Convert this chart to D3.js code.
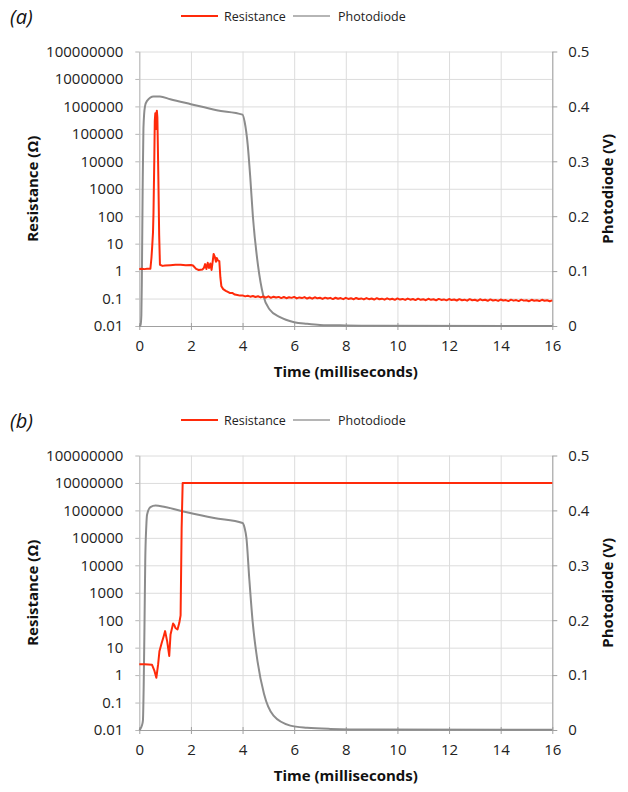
<!DOCTYPE html>
<html>
<head>
<meta charset="utf-8">
<script src="https://cdn.jsdelivr.net/npm/d3@7"></script>
<style>
  body { margin: 0; background: #fff; }
  svg { font-family: "Open Sans", sans-serif; }
</style>
</head>
<body>
<div id="chart"></div>
<script>
// axis ticks
var timeTicks = [0, 2, 4, 6, 8, 10, 12, 14, 16];
var resTicks = [0.01, 0.1, 1, 10, 100, 1000, 10000, 100000, 1000000, 10000000, 100000000];
var resTickLabels = ["0.01", "0.1", "1", "10", "100", "1000", "10000", "100000", "1000000", "10000000", "100000000"];
var photoTicks = [0, 0.1, 0.2, 0.3, 0.4, 0.5];
var photoTickLabels = ["0", "0.1", "0.2", "0.3", "0.4", "0.5"];
var seriesNames = ["Resistance", "Photodiode"];
var panelNames = ["(a)", "(b)"];

// panel (a) resistance, [ms, ohm]
var resA = [
  [0, 1.2], [0.1, 1.22], [0.2, 1.18], [0.3, 1.21], [0.43, 1.22], [0.47, 3], [0.5, 8],
  [0.53, 25], [0.55, 135], [0.58, 1e4], [0.6, 3e5], [0.62, 5.6e5], [0.645, 1.5e5],
  [0.66, 5e5], [0.68, 7e5], [0.7, 4e5], [0.72, 3e4], [0.74, 2000], [0.77, 20],
  [0.8, 1.7], [0.9, 1.55], [1.0, 1.6], [1.2, 1.65], [1.4, 1.7], [1.6, 1.72],
  [1.8, 1.65], [2.0, 1.68], [2.08, 1.6], [2.2, 1.2], [2.3, 1.1], [2.45, 1.15],
  [2.5, 1.3], [2.55, 1.8], [2.6, 1.2], [2.65, 2], [2.7, 1.3], [2.75, 1.9], [2.8, 1.1],
  [2.85, 2.5], [2.88, 4.2], [2.93, 3.2], [2.97, 2.2], [3.0, 3], [3.05, 2.4],
  [3.1, 2.3], [3.14, 0.6], [3.18, 0.28], [3.25, 0.22], [3.35, 0.19], [3.45, 0.17],
  [3.5, 0.16]
];
// panel (a) resistance tail, one reading every 0.1 ms from 3.6 ms
var resATailStart = 3.6;
var resATailStep = 0.1;
var resATail = [
  0.16, 0.14, 0.135, 0.128, 0.13, 0.12, 0.126, 0.117, 0.124, 0.114,
  0.121, 0.11, 0.119, 0.108, 0.12, 0.106, 0.117, 0.109, 0.115, 0.104,
  0.114, 0.103, 0.112, 0.106, 0.115, 0.101, 0.11, 0.104, 0.113, 0.1,
  0.109, 0.099, 0.111, 0.102, 0.107, 0.097, 0.108, 0.1, 0.106, 0.096,
  0.107, 0.098, 0.104, 0.095, 0.106, 0.097, 0.103, 0.094, 0.105, 0.096,
  0.101, 0.093, 0.104, 0.095, 0.1, 0.092, 0.103, 0.094, 0.099, 0.091,
  0.102, 0.093, 0.098, 0.09, 0.101, 0.092, 0.097, 0.089, 0.1, 0.091,
  0.096, 0.088, 0.099, 0.09, 0.095, 0.087, 0.098, 0.09, 0.094, 0.086,
  0.097, 0.089, 0.093, 0.086, 0.096, 0.088, 0.092, 0.085, 0.095, 0.087,
  0.091, 0.084, 0.095, 0.087, 0.09, 0.083, 0.094, 0.086, 0.09, 0.083,
  0.093, 0.085, 0.089, 0.082, 0.092, 0.085, 0.088, 0.081, 0.091, 0.084,
  0.088, 0.081, 0.091, 0.084, 0.087, 0.08, 0.09, 0.083, 0.087, 0.081,
  0.09, 0.083, 0.087, 0.08, 0.086
];
// panel (a) photodiode, [ms, V]
var photoA = [
  [0, 0], [0.05, 0.002], [0.08, 0.02], [0.1, 0.09], [0.13, 0.25], [0.16, 0.36],
  [0.22, 0.4], [0.3, 0.41], [0.55, 0.418], [0.8, 0.418], [1.2, 0.413], [2, 0.404],
  [3, 0.393], [4, 0.385], [4.08, 0.372], [4.2, 0.33], [4.3, 0.27], [4.4, 0.2],
  [4.6, 0.11], [4.8, 0.056], [5.05, 0.03], [5.45, 0.016], [6, 0.007], [6.5, 0.004],
  [7, 0.002], [8, 0.001], [9, 0.0005], [16, 0]
];

// panel (b) resistance, [ms, ohm]
var resB = [
  [0, 2.5], [0.2, 2.5], [0.35, 2.45], [0.49, 2.4], [0.58, 1.5], [0.66, 0.8],
  [0.73, 2.5], [0.78, 7.4], [0.87, 15], [0.94, 25], [1.0, 40], [1.08, 17],
  [1.16, 5], [1.21, 30], [1.31, 76], [1.36, 65], [1.4, 52], [1.48, 46],
  [1.55, 80], [1.6, 150], [1.64, 2.2e5], [1.68, 1e7], [16, 1e7]
];
// panel (b) photodiode, [ms, V]
var photoB = [
  [0, 0], [0.04, 0.002], [0.1, 0.008], [0.14, 0.017], [0.17, 0.08], [0.2, 0.186],
  [0.23, 0.307], [0.27, 0.37], [0.3, 0.392], [0.43, 0.406], [0.63, 0.409],
  [1.0, 0.406], [1.8, 0.397], [2.9, 0.386], [4.0, 0.377], [4.08, 0.368],
  [4.15, 0.35], [4.26, 0.276], [4.39, 0.198], [4.58, 0.125], [4.83, 0.066],
  [5.2, 0.026], [5.85, 0.008], [6.5, 0.004], [7.4, 0.002], [9, 0.001], [16, 0.0005]
];

var W = 628, H = 792;
var red = "#ff2a0a", gray = "#8c8c8c";

var svg = d3.select("#chart").append("svg")
  .attr("width", W).attr("height", H);

function drawPanel(top, label, resData, photoData) {
  var g = svg.append("g").attr("transform", "translate(0," + top + ")");
  var left = 139.3, right = 552.3, y0 = 51.5, y1 = 326;

  var x = d3.scaleLinear().domain([0, 16]).range([left, right]);
  var yL = d3.scaleLog().domain([0.01, 1e8]).range([y1, y0]);
  var yR = d3.scaleLinear().domain([0, 0.5]).range([y1, y0]);

  // panel label
  g.append("text").attr("x", 10).attr("y", 24)
    .style("font-style", "italic").style("font-size", "20px").attr("fill", "#111")
    .text(label);

  // legend
  var leg = g.append("g").style("font-size", "12.5px");
  [[181, 218, 224, red], [293, 330, 338, "#b5b5b5"]].forEach(function(l, i) {
    leg.append("line").attr("x1", l[0]).attr("x2", l[1]).attr("y1", 16).attr("y2", 16)
      .attr("stroke", l[3]).attr("stroke-width", 2);
    leg.append("text").attr("x", l[2]).attr("y", 20.5).attr("fill", "#222").text(seriesNames[i]);
  });

  // gridlines
  g.append("g").attr("transform", "translate(0," + y1 + ")")
    .call(d3.axisBottom(x).tickValues(timeTicks).tickSize(-(y1 - y0)).tickFormat(""))
    .call(function(s) { s.select(".domain").remove(); s.selectAll("line").attr("stroke", "#dcdcdc"); });
  g.append("g").attr("transform", "translate(" + left + ",0)")
    .call(d3.axisLeft(yL).tickValues(resTicks).tickSize(-(right - left)).tickFormat(""))
    .call(function(s) { s.select(".domain").remove(); s.selectAll("line").attr("stroke", "#dcdcdc"); });

  // left axis
  g.append("g").attr("transform", "translate(" + left + ",0)")
    .call(d3.axisLeft(yL).tickValues(resTicks).tickSizeInner(4).tickSizeOuter(0).tickPadding(12)
      .tickFormat(function(d, i) { return resTickLabels[i]; }))
    .call(function(s) {
      s.select(".domain").attr("stroke", "#b8b8b8");
      s.selectAll("line").attr("stroke", "#b8b8b8");
      s.selectAll("text").style("font-size", "15px").attr("fill", "#222").style("font-family", "Open Sans");
    });

  // right axis
  g.append("g").attr("transform", "translate(" + right + ",0)")
    .call(d3.axisRight(yR).tickValues(photoTicks).tickSizeInner(5).tickSizeOuter(0).tickPadding(11)
      .tickFormat(function(d, i) { return photoTickLabels[i]; }))
    .call(function(s) {
      s.select(".domain").attr("stroke", "#a0a0a0");
      s.selectAll("line").attr("stroke", "#a0a0a0");
      s.selectAll("text").style("font-size", "15px").attr("fill", "#222").style("font-family", "Open Sans");
    });

  // bottom axis
  g.append("g").attr("transform", "translate(0," + y1 + ")")
    .call(d3.axisBottom(x).tickValues(timeTicks).tickSizeInner(4).tickSizeOuter(0).tickPadding(10))
    .call(function(s) {
      s.select(".domain").attr("stroke", "#a0a0a0");
      s.selectAll("line").attr("stroke", "#a0a0a0").attr("y1", -3);
      s.selectAll("text").style("font-size", "15px").attr("fill", "#222").style("font-family", "Open Sans");
    });

  // axis titles
  g.append("text").attr("x", (left + right) / 2).attr("y", 377)
    .attr("text-anchor", "middle").style("font-weight", "bold").style("font-size", "15px")
    .attr("fill", "#111").text("Time (milliseconds)");
  g.append("text").attr("transform", "translate(38," + (y0 + y1) / 2 + ") rotate(-90)")
    .attr("text-anchor", "middle").style("font-weight", "bold").style("font-size", "15px")
    .attr("fill", "#111").text("Resistance (\u03A9)");
  g.append("text").attr("transform", "translate(613," + (y0 + y1) / 2 + ") rotate(-90)")
    .attr("text-anchor", "middle").style("font-weight", "bold").style("font-size", "15px")
    .attr("fill", "#111").text("Photodiode (V)");

  // series
  var photoLine = d3.line().x(function(d) { return x(d[0]); }).y(function(d) { return yR(d[1]); })
    .curve(d3.curveMonotoneX);
  var resLine = d3.line().x(function(d) { return x(d[0]); }).y(function(d) { return yL(d[1]); });

  g.append("path").datum(photoData).attr("d", photoLine)
    .attr("fill", "none").attr("stroke", gray).attr("stroke-width", 2);
  g.append("path").datum(resData).attr("d", resLine)
    .attr("fill", "none").attr("stroke", red).attr("stroke-width", 2)
    .attr("stroke-linejoin", "round");
}

var resAFull = resA.concat(resATail.map(function(v, i) {
  return [resATailStart + i * resATailStep, v];
}));

drawPanel(0, panelNames[0], resAFull, photoA);
drawPanel(404, panelNames[1], resB, photoB);
</script>
</body>
</html>
